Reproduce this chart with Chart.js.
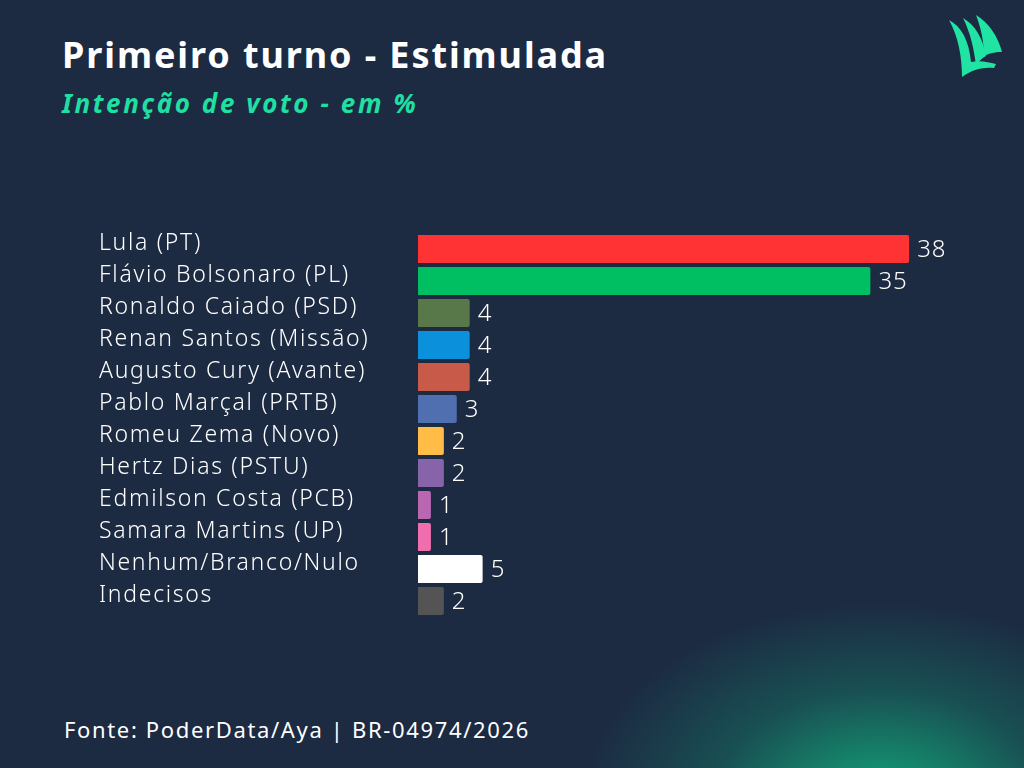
<!DOCTYPE html>
<html>
<head>
<meta charset="utf-8">
<script src="https://cdn.jsdelivr.net/npm/chart.js@4"></script>
<style>
  html, body { margin: 0; padding: 0; }
  body {
    width: 1024px; height: 768px; overflow: hidden; position: relative;
    background-color: #1c2a42;
    background-image: radial-gradient(ellipse 300px 200px at 880px 800px, rgba(18,178,126,0.9), rgba(18,150,115,0.35) 55%, rgba(28,42,66,0) 100%);
    font-family: "Noto Sans", sans-serif;
  }
  #title { position: absolute; left: 62px; top: 30px; color: #fff; font-weight: 700; font-size: 36px; letter-spacing: 1.9px; }
  #subtitle { position: absolute; left: 62px; top: 85px; color: #1fe0a2; font-weight: 700; font-style: italic; font-size: 26px; letter-spacing: 2.6px; }
  #source { position: absolute; left: 64px; top: 714px; color: #fff; font-size: 22px; letter-spacing: 1.65px; }
  #logo { position: absolute; left: 930px; top: 0; }
  #wrap { position: absolute; left: 0; top: 0; width: 1024px; height: 768px; }
</style>
</head>
<body>
<div id="title">Primeiro turno - Estimulada</div>
<div id="subtitle">Intenção de voto - em %</div>
<div id="source">Fonte: PoderData/Aya | BR-04974/2026</div>
<svg id="logo" width="94" height="100" viewBox="0 0 94 100">
  <g fill="#20e3a4">
    <path d="M46,15 C58,22 68,36 72,52 C64,52 58,54 54,56 C54,42 51,28 46,15 Z"/>
    <path d="M33,18 C45,25 53,38 56,56 C52,58 48,62 46,66 C44,48 40,32 33,18 Z"/>
    <path d="M19,20 C31,26 39,40 41,62 C50,60 58,62 66,64 L64,68 C52,67 42,70 32,77 C32,56 28,36 19,20 Z"/>
  </g>
</svg>
<div id="wrap"><canvas id="chart" width="1024" height="768"></canvas></div>
<script>
const candidates = ['Lula (PT)', 'Flávio Bolsonaro (PL)', 'Ronaldo Caiado (PSD)', 'Renan Santos (Missão)',
  'Augusto Cury (Avante)', 'Pablo Marçal (PRTB)', 'Romeu Zema (Novo)', 'Hertz Dias (PSTU)',
  'Edmilson Costa (PCB)', 'Samara Martins (UP)', 'Nenhum/Branco/Nulo', 'Indecisos'];
const votes = [38, 35, 4, 4, 4, 3, 2, 2, 1, 1, 5, 2];
const barColors = ['#ff3334', '#00bf63', '#58784a', '#0b90db', '#c75a48', '#4f6fb0',
  '#ffbd48', '#8764a9', '#b867b0', '#ef6fae', '#ffffff', '#545454'];

// draws candidate names at the left and the values after each bar
const labelsPlugin = {
  id: 'labels',
  afterDatasetsDraw(chart) {
    const ctx = chart.ctx;
    const meta = chart.getDatasetMeta(0);
    ctx.save();
    ctx.fillStyle = '#ffffff';
    ctx.textBaseline = 'middle';
    ctx.textAlign = 'left';
    meta.data.forEach((bar, i) => {
      ctx.font = '300 23px "Noto Sans"';
      ctx.letterSpacing = '1.7px';
      ctx.fillText(candidates[i], 99, bar.y - 6);
      ctx.font = '300 24px "Noto Sans"';
      ctx.letterSpacing = '1px';
      ctx.fillText(String(votes[i]), bar.x + 8, bar.y + 1);
    });
    ctx.restore();
  }
};

new Chart(document.getElementById('chart'), {
  type: 'bar',
  data: {
    labels: candidates,
    datasets: [{
      data: votes,
      backgroundColor: barColors,
      borderRadius: 2,
      categoryPercentage: 1,
      barPercentage: 0.875
    }]
  },
  options: {
    indexAxis: 'y',
    responsive: false,
    animation: false,
    layout: { padding: { left: 418, right: 89, top: 233, bottom: 151 } },
    scales: {
      x: { display: false, min: 0, max: 40 },
      y: { display: false }
    },
    plugins: { legend: { display: false }, tooltip: { enabled: false } }
  },
  plugins: [labelsPlugin]
});
</script>
</body>
</html>
